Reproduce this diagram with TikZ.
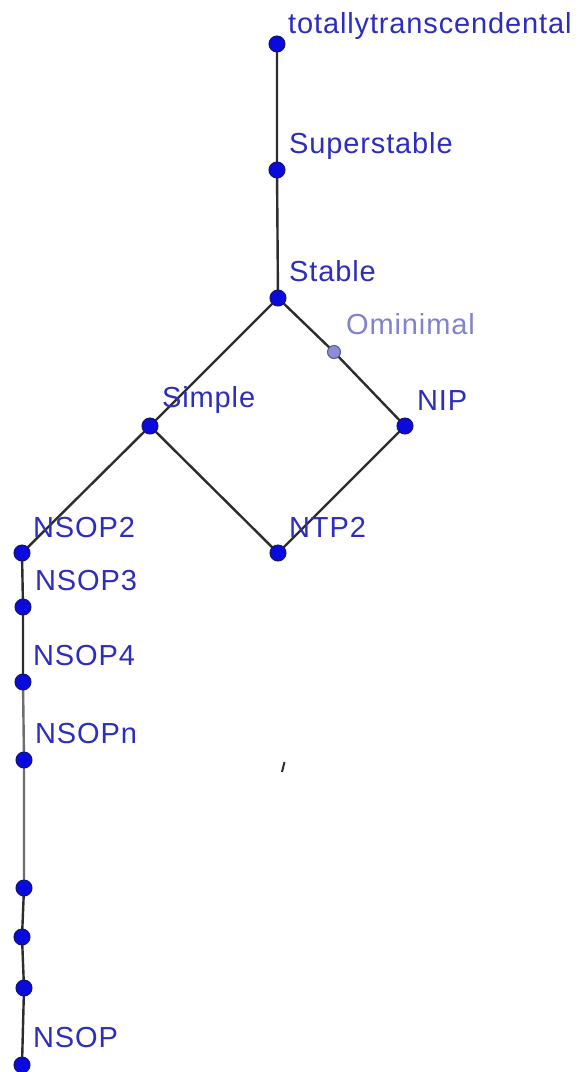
\documentclass[tikz,border=0pt]{standalone}
\usepackage{fontspec}
\setmainfont[LetterSpace=3]{Liberation Sans}
\usepackage{tikz}
\definecolor{ptblue}{RGB}{10,10,220}
\definecolor{ptedge}{RGB}{20,20,110}
\definecolor{txtblue}{RGB}{45,45,190}
\definecolor{paleblue}{RGB}{140,140,215}
\definecolor{paletxt}{RGB}{130,130,205}
\definecolor{edgegray}{RGB}{45,45,45}
\definecolor{softgray}{RGB}{110,110,110}
\begin{document}
\begin{tikzpicture}
    [
        x=1pt, y=-1pt,
        dot/.style={circle, fill=ptblue, draw=ptedge, line width=1pt, inner sep=0pt, minimum size=16pt},
        paledot/.style={dot, fill=paleblue, draw=ptedge!70, minimum size=13pt},
        lbl/.style={anchor=base west, inner sep=0pt, text=txtblue, font=\fontsize{29}{33}\selectfont},
        palelbl/.style={lbl, text=paletxt},
        edge/.style={draw=edgegray, line width=2.4pt},
        softedge/.style={draw=softgray, line width=2.4pt},
    ]
    \useasboundingbox[fill=white] (0,0) rectangle (579,1072);
    % points
    \coordinate (tt) at (277,44);
    \coordinate (superstable) at (277,170);
    \coordinate (stable) at (278,298);
    \coordinate (ominimal) at (334,352);
    \coordinate (nip) at (405,426);
    \coordinate (simple) at (150,426);
    \coordinate (ntp2) at (278,553);
    \coordinate (nsop2) at (22,553);
    \coordinate (nsop3) at (23,607);
    \coordinate (nsop4) at (23,682);
    \coordinate (nsopn) at (24,760);
    \coordinate (p1) at (24,888);
    \coordinate (p2) at (22,937);
    \coordinate (p3) at (24,988);
    \coordinate (nsop) at (22,1065);
    % edges
    \draw[edge] (tt) -- (superstable) -- (stable);
    \draw[edge] (stable) -- (simple);
    \draw[edge] (stable) -- (ominimal) -- (nip);
    \draw[edge] (nip) -- (ntp2);
    \draw[edge] (simple) -- (ntp2);
    \draw[edge] (simple) -- (nsop2);
    \draw[edge] (nsop2) -- (nsop3) -- (nsop4);
    \draw[softedge] (nsop4) -- (nsopn) -- (p1);
    \draw[edge] (p1) -- (p2) -- (p3) -- (nsop);
    % dots
    \foreach \p in {tt, superstable, stable, nip, simple, ntp2, nsop2, nsop3, nsop4, nsopn, p1, p2, p3, nsop}
        \node[dot] at (\p) {};
    \node[paledot] at (ominimal) {};
    % labels
    \node[lbl] at ([shift={(11,-11)}]tt) {totallytranscendental};
    \node[lbl] at ([shift={(12,-17)}]superstable) {Superstable};
    \node[lbl] at ([shift={(11,-17)}]stable) {Stable};
    \node[palelbl] at ([shift={(12,-18)}]ominimal) {Ominimal};
    \node[lbl] at ([shift={(12,-16)}]nip) {NIP};
    \node[lbl] at ([shift={(12,-19)}]simple) {Simple};
    \node[lbl] at ([shift={(11,-16)}]ntp2) {NTP2};
    \node[lbl] at ([shift={(11,-16)}]nsop2) {NSOP2};
    \node[lbl] at ([shift={(12,-17)}]nsop3) {NSOP3};
    \node[lbl] at ([shift={(10,-17)}]nsop4) {NSOP4};
    \node[lbl] at ([shift={(11,-17)}]nsopn) {NSOPn};
    \node[lbl] at ([shift={(11,-18)}]nsop) {NSOP};
    % stray mark
    \draw[edge, line width=2pt] (284.5,762) -- (282,772);
\end{tikzpicture}
\end{document}
